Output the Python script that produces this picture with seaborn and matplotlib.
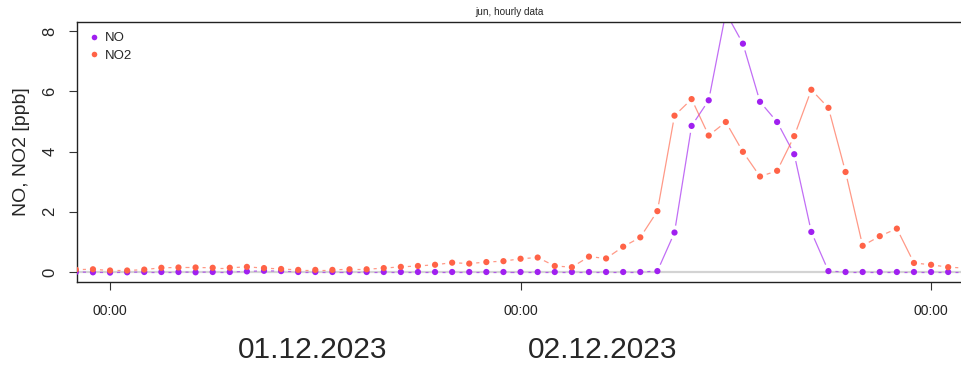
import numpy as np
import pandas as pd
import matplotlib
matplotlib.use("Agg")
import matplotlib.pyplot as plt
import matplotlib.dates as mdates
from matplotlib.collections import LineCollection
import seaborn as sns

# hourly values, 30.11.2023 22:00 ... 03.12.2023 02:00
times = pd.date_range("2023-11-30 22:00", "2023-12-03 02:00", freq="h")
no_vals = [0.0, -0.01, -0.02, -0.01, 0.0, 0.0, 0.0, -0.01, 0.0, 0.0, 0.02, 0.04, 0.03,
           0.0, 0.0, 0.0, 0.0, 0.0, 0.0, 0.0, 0.0, 0.0, 0.0, 0.0, 0.0, 0.0, 0.0,
           0.0, 0.0, 0.0, 0.0, 0.0, 0.0, 0.0, 0.03, 1.31, 4.85, 5.70, 8.61, 7.58,
           5.65, 4.98, 3.91, 1.33, 0.03, 0.0, 0.0, 0.0, 0.0, 0.0, 0.0, 0.0, 0.0]
no2_vals = [0.08, 0.09, 0.05, 0.05, 0.08, 0.14, 0.15, 0.15, 0.14, 0.14, 0.17, 0.13, 0.10,
            0.07, 0.07, 0.07, 0.09, 0.09, 0.13, 0.17, 0.20, 0.24, 0.31, 0.28, 0.33,
            0.36, 0.44, 0.48, 0.20, 0.16, 0.51, 0.45, 0.84, 1.15, 2.02, 5.19, 5.74,
            4.53, 4.98, 3.99, 3.17, 3.36, 4.51, 6.05, 5.45, 3.32, 0.87, 1.19, 1.44,
            0.30, 0.24, 0.16, 0.13]
series_names = ["NO", "NO2"]
series_colors = {"NO": "#A020F0", "NO2": "#FF6347"}
y_ticks = [0, 2, 4, 6, 8]
day_labels = ["01.12.2023", "02.12.2023"]

df = pd.DataFrame({"time": times, "NO": no_vals, "NO2": no2_vals})
long_df = df.melt(id_vars="time", var_name="species", value_name="ppb")

sns.set_style("ticks")
plt.rcParams["font.family"] = ["Liberation Sans", "DejaVu Sans"]

W, H = 961, 365
fig = plt.figure(figsize=(W / 100, H / 100), dpi=100)
ax = fig.add_axes([76.7 / W, 83 / H, 1 - 76.7 / W, (282 - 21.5) / H])

x_lo, x_hi = pd.Timestamp("2023-11-30 22:03"), pd.Timestamp("2023-12-03 01:45")
ax.set_xlim(x_lo, x_hi)
ax.set_ylim(-0.332, 8.316)

ax.axhline(0, color="#d3d3d3", lw=1.6, zorder=1)


def draw_b_lines(ax, x, y, color, gap=7.0):
    # R type="b": line segments with a gap around every point
    pts = ax.transData.transform(np.column_stack([mdates.date2num(x), y]))
    inv = ax.transData.inverted()
    segs = []
    for p0, p1 in zip(pts[:-1], pts[1:]):
        d = p1 - p0
        L = np.hypot(*d)
        if L <= 2 * gap:
            continue
        u = d / L
        segs.append(inv.transform(np.array([p0 + u * gap, p1 - u * gap])))
    ax.add_collection(LineCollection(segs, colors=color, linewidths=0.9,
                                     alpha=0.65, zorder=2))


for name in series_names:
    draw_b_lines(ax, df["time"], df[name].values, series_colors[name])

sns.scatterplot(data=long_df, x="time", y="ppb", hue="species",
                hue_order=series_names, palette=series_colors, s=20,
                linewidth=0, ax=ax, zorder=3, legend=True)

ax.set_xlim(x_lo, x_hi)
ax.set_ylim(-0.332, 8.316)

ax.xaxis.set_major_locator(mdates.DayLocator())
ax.xaxis.set_major_formatter(mdates.DateFormatter("%H:%M"))
ax.set_yticks(y_ticks)
ax.tick_params(axis="x", length=6, width=0.8, pad=10, labelsize=10, color="#333333",
               labelcolor="#222222")
ax.tick_params(axis="y", length=6, width=0.8, pad=8, labelsize=12, color="#333333")
for lab in ax.get_yticklabels():
    lab.set_rotation(90)
    lab.set_va("center")

ax.set_xlabel("")
ax.set_ylabel("NO, NO2 [ppb]", fontsize=14, labelpad=9)

for side in ["left", "bottom", "top"]:
    ax.spines[side].set_color("#222222")
    ax.spines[side].set_linewidth(1.0)
ax.spines["right"].set_visible(False)

ax.legend(loc="upper left", bbox_to_anchor=(0.0, 1.0), frameon=False,
          fontsize=9.5, handletextpad=0.3, borderaxespad=0.4, labelspacing=0.4,
          handlelength=1.0, markerscale=0.9)

fig.text(509.5 / W, 1 - 12 / H, "jun, hourly data", fontsize=7.2,
         ha="center", va="center")
fig.text(312.5 / W, 1 - 350 / H, day_labels[0], fontsize=21.5,
         ha="center", va="center")
fig.text(603 / W, 1 - 350 / H, day_labels[1], fontsize=21.5,
         ha="center", va="center")

fig.savefig("out.png", dpi=100)
